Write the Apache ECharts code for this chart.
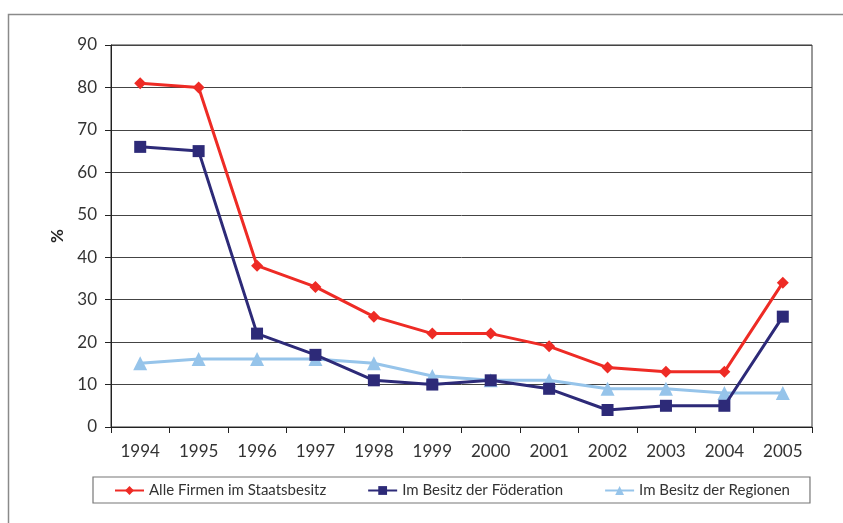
<!DOCTYPE html>
<html><head><meta charset="utf-8">
<script src="https://cdn.jsdelivr.net/npm/echarts@6/dist/echarts.min.js"></script>
<style>html,body{margin:0;padding:0;background:#fff}#c{width:843px;height:523px}</style>
</head><body><div id="c"></div>
<script>
var years = ['1994','1995','1996','1997','1998','1999','2000','2001','2002','2003','2004','2005'];
var alleFirmen = [81, 80, 38, 33, 26, 22, 22, 19, 14, 13, 13, 34];
var foederation = [66, 65, 22, 17, 11, 10, 11, 9, 4, 5, 5, 26];
var regionen = [15, 16, 16, 16, 15, 12, 11, 11, 9, 9, 8, 8];
var names = ['Alle Firmen im Staatsbesitz', 'Im Besitz der Föderation', 'Im Besitz der Regionen'];

var font = 'Lato';
var chart = echarts.init(document.getElementById('c'));
chart.setOption({
  animation: false,
  textStyle: {fontFamily: font},
  graphic: [{type: 'rect', left: 6, top: 12, shape: {width: 900, height: 600}, style: {fill: null, stroke: '#8a8a8a', lineWidth: 1.5}, silent: true, z: -1}],
  grid: {left: 111, right: 31, top: 45, bottom: 96, show: true, borderColor: '#333', borderWidth: 1},
  legend: {
    left: 93, top: 477, itemGap: 41, itemWidth: 29, itemHeight: 11,
    padding: [6, 20, 5, 21], borderColor: '#777', borderWidth: 1.2,
    textStyle: {fontFamily: font, fontSize: 15, color: '#333'},
    data: names
  },
  xAxis: {
    type: 'category', data: years, boundaryGap: true,
    axisLine: {lineStyle: {color: '#222'}},
    axisTick: {show: true, length: 6, lineStyle: {color: '#222'}},
    axisLabel: {fontFamily: font, fontSize: 17, color: '#333', margin: 16}
  },
  yAxis: {
    type: 'value', min: 0, max: 90, interval: 10,
    name: '%', nameLocation: 'middle', nameGap: 44, nameRotate: 90,
    nameTextStyle: {fontFamily: font, fontSize: 17, color: '#222', fontWeight: 'bold'},
    axisLine: {show: true, lineStyle: {color: '#222'}},
    axisTick: {show: true, length: 6, lineStyle: {color: '#222'}},
    axisLabel: {fontFamily: font, fontSize: 17, color: '#333', margin: 14},
    splitLine: {lineStyle: {color: '#444', width: 1}}
  },
  series: [
    {name: names[0], type: 'line', data: alleFirmen, symbol: 'diamond', symbolSize: 12,
     lineStyle: {color: '#ee2b25', width: 3}, itemStyle: {color: '#ee2b25'}, z: 4},
    {name: names[1], type: 'line', data: foederation, symbol: 'rect', symbolSize: 12,
     lineStyle: {color: '#2d2a78', width: 3}, itemStyle: {color: '#2d2a78'}, z: 3},
    {name: names[2], type: 'line', data: regionen, symbol: 'triangle', symbolSize: 14,
     lineStyle: {color: '#96c4ea', width: 3}, itemStyle: {color: '#96c4ea'}, z: 2}
  ]
});
</script></body></html>
